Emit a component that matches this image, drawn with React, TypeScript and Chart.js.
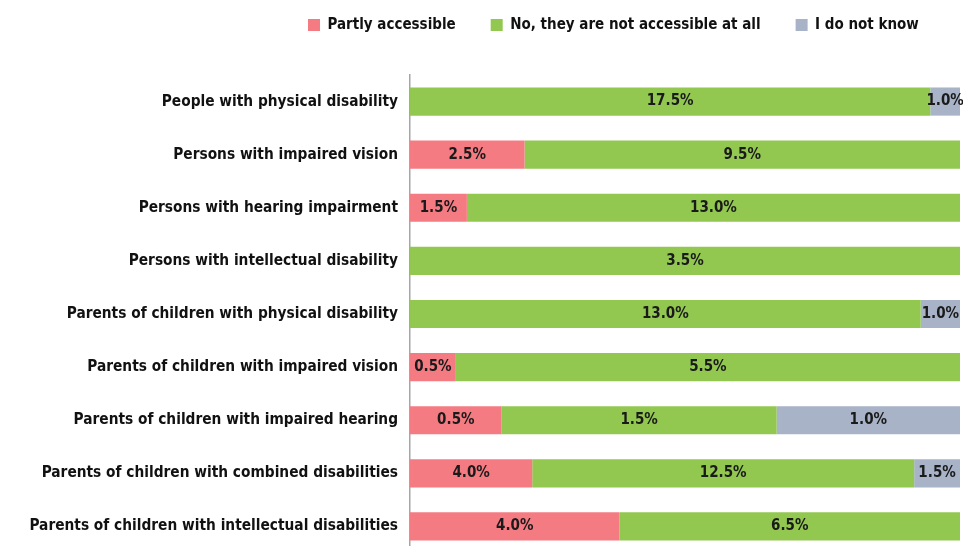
import React, { useEffect, useRef } from "react";
import { Chart, registerables } from "chart.js";

Chart.register(...registerables);

const categories = [
  "People with physical disability",
  "Persons with impaired vision",
  "Persons with hearing impairment",
  "Persons with intellectual disability",
  "Parents of children with physical disability",
  "Parents of children with impaired vision",
  "Parents of children with impaired hearing",
  "Parents of children with combined disabilities",
  "Parents of children with intellectual disabilities",
];

const partlyAccessible = [null, 2.5, 1.5, null, null, 0.5, 0.5, 4.0, 4.0];
const notAccessible = [17.5, 9.5, 13.0, 3.5, 13.0, 5.5, 1.5, 12.5, 6.5];
const doNotKnow = [1.0, null, null, null, 1.0, null, 1.0, 1.5, null];

const seriesNames = ["Partly accessible", "No, they are not accessible at all", "I do not know"];
const seriesColors = ["#F47B82", "#92C850", "#A8B3C7"];

const FONT = '"DejaVu Sans Condensed", "DejaVu Sans", sans-serif';
const LEGEND_FONT_SIZE = 15;

export default function App() {
  const ref = useRef<HTMLCanvasElement | null>(null);

  useEffect(() => {
    if (!ref.current) return;
    const raw = [partlyAccessible, notAccessible, doNotKnow];
    const totals = categories.map((_, i) =>
      raw.reduce((s, arr) => s + (arr[i] ?? 0), 0)
    );
    const datasets = raw.map((arr, k) => ({
      label: seriesNames[k],
      data: arr.map((v, i) => (v == null ? null : (v / totals[i]) * 100)),
      rawValues: arr,
      backgroundColor: seriesColors[k],
      borderWidth: 0,
      categoryPercentage: 1,
      barPercentage: 0.53,
    }));

    const legendPlugin = {
      id: "legendTweak",
      afterInit(chart: any) {
        const lg = chart.legend;
        const orig = lg.fit;
        lg.fit = function () {
          orig.call(this);
          this.height = 75;
        };
      },
      afterLayout(chart: any) {
        const lg = chart.legend;
        const pad = lg.options.labels.padding;
        const w = lg.right - lg.left;
        lg.left = 308 - pad;
        lg.right = lg.left + w;
        const h = lg.bottom - lg.top;
        lg.top = 25 - pad - LEGEND_FONT_SIZE / 2;
        lg.bottom = lg.top + h;
      },
    };

    const valueLabels = {
      id: "valueLabels",
      afterDatasetsDraw(chart: any) {
        const ctx = chart.ctx;
        ctx.save();
        ctx.font = `bold 15px ${FONT}`;
        ctx.fillStyle = "#1a1a1a";
        ctx.textAlign = "center";
        ctx.textBaseline = "middle";
        chart.data.datasets.forEach((ds: any, di: number) => {
          const meta = chart.getDatasetMeta(di);
          meta.data.forEach((el: any, i: number) => {
            const v = ds.rawValues[i];
            if (v == null) return;
            const c = el.getCenterPoint();
            ctx.fillText(v.toFixed(1) + "%", c.x, c.y);
          });
        });
        ctx.restore();
      },
    };

    const chart = new Chart(ref.current, {
      type: "bar",
      data: { labels: categories, datasets: datasets as any },
      options: {
        indexAxis: "y",
        animation: false,
        responsive: false,
        maintainAspectRatio: false,
        layout: { padding: { left: 0, right: 3, top: 0, bottom: 0 } },
        scales: {
          x: { stacked: true, display: false, min: 0, max: 100 },
          y: {
            stacked: true,
            grid: { display: false, drawTicks: false },
            border: { display: true, color: "#A6A6A6", width: 1.5 },
            ticks: {
              padding: 12,
              color: "#111",
              font: { family: FONT, weight: "bold", size: 15.3 },
            },
            afterFit(scale: any) {
              scale.width = 410;
              scale.paddingTop = 0;
              scale.paddingBottom = 0;
            },
          },
        },
        plugins: {
          tooltip: { enabled: false },
          legend: {
            display: true,
            position: "top",
            align: "start",
            labels: {
              boxWidth: 12,
              boxHeight: 12,
              padding: 35,
              color: "#111",
              font: { family: FONT, weight: "bold", size: LEGEND_FONT_SIZE },
            },
          },
        },
      },
      plugins: [legendPlugin, valueLabels],
    });
    return () => chart.destroy();
  }, []);

  return (
    <div style={{ position: "absolute", left: 0, top: 0, width: 963, height: 546, overflow: "hidden", background: "#fff" }}>
      <canvas ref={ref} width={963} height={553} style={{ display: "block" }} />
    </div>
  );
}
